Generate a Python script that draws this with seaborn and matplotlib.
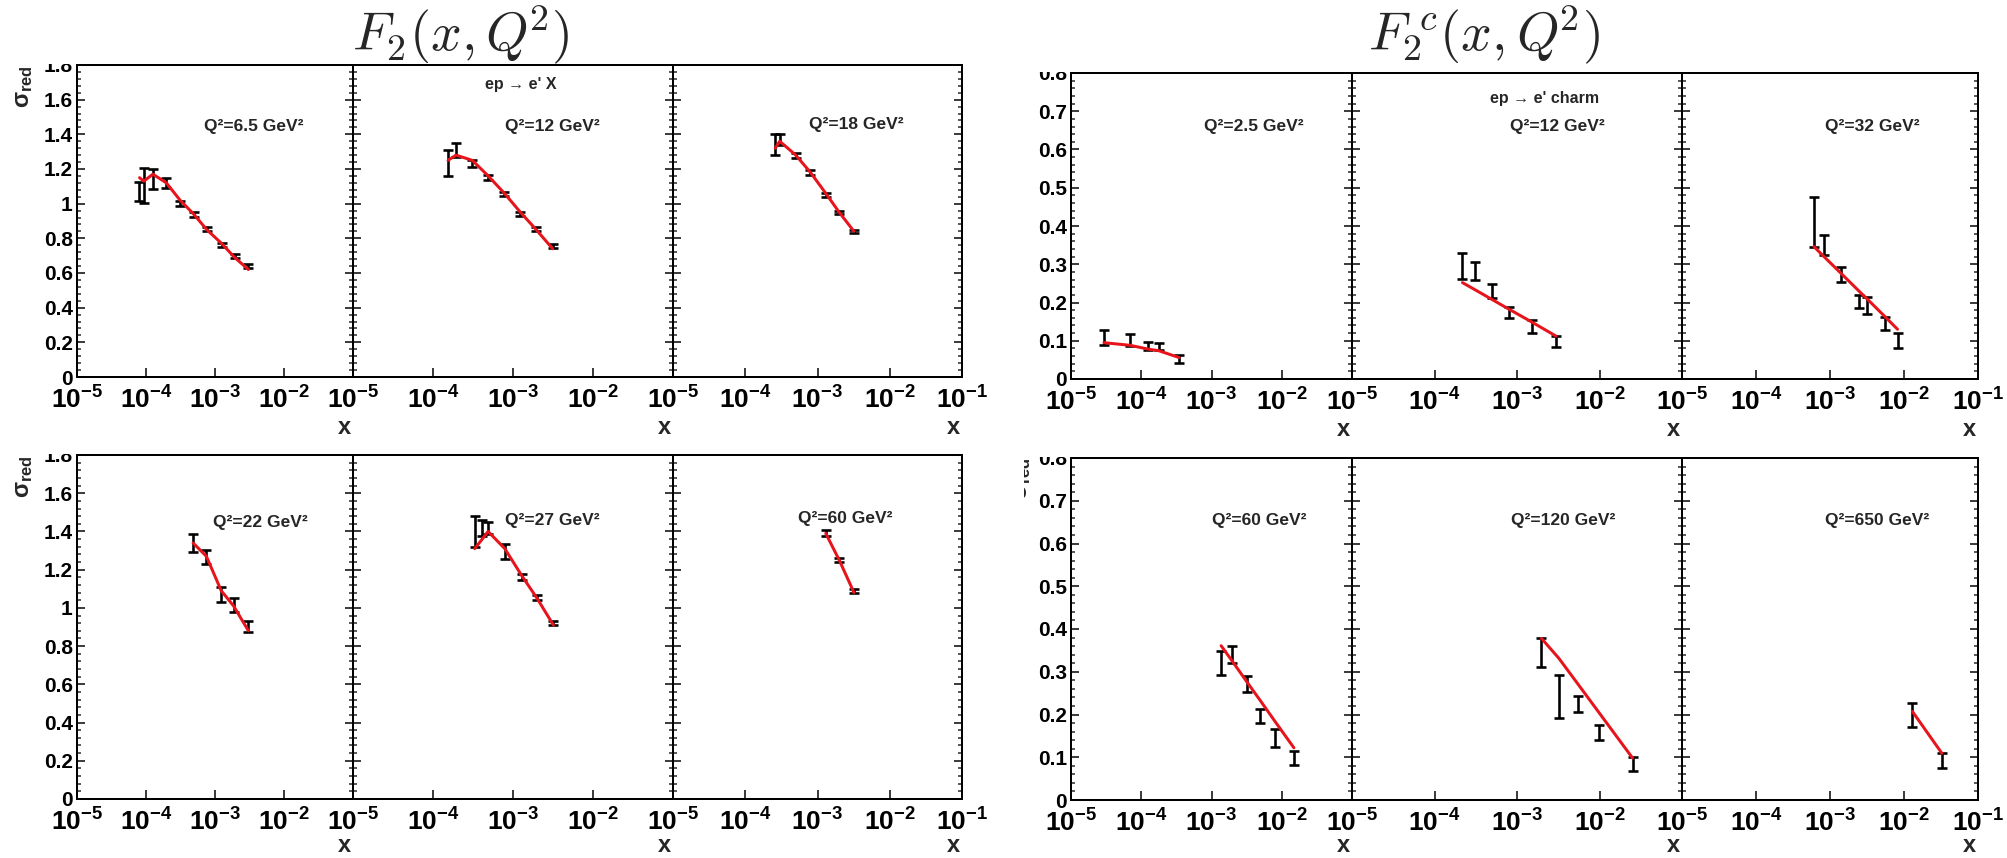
import numpy as np
import pandas as pd
import matplotlib
matplotlib.use("Agg")
import matplotlib.pyplot as plt
import seaborn as sns
from matplotlib import font_manager
from matplotlib.ticker import FixedLocator, LogLocator, NullFormatter, FuncFormatter, MultipleLocator
from matplotlib.patches import Rectangle


def pick_font(cands):
    for c in cands:
        try:
            font_manager.findfont(font_manager.FontProperties(family=c), fallback_to_default=False)
            return c
        except Exception:
            continue
    return "DejaVu Sans"


NARROW = pick_font(["Liberation Sans Narrow", "Liberation Sans", "DejaVu Sans"])
SANS = pick_font(["Liberation Sans", "DejaVu Sans"])

sns.set_theme(style="white")
plt.rcParams["font.family"] = [SANS, "DejaVu Sans"]
plt.rcParams["mathtext.fontset"] = "custom"
for k in ("rm", "bf", "it", "sf"):
    plt.rcParams["mathtext." + k] = NARROW + ":bold"

# ---------------- inclusive reduced cross section, sigma_red ----------------
f2_labels = ["Q²=6.5 GeV²", "Q²=12 GeV²", "Q²=18 GeV²",
             "Q²=22 GeV²", "Q²=27 GeV²", "Q²=60 GeV²"]

f2_x_q6p5 = [8.05e-5, 9.3e-5, 1.26e-4, 1.97e-4, 3.12e-4, 4.9e-4, 7.6e-4, 1.25e-3, 1.92e-3, 3.05e-3]
f2_y_q6p5 = [1.07, 1.105, 1.14, 1.12, 1.00, 0.937, 0.854, 0.763, 0.699, 0.641]
f2_e_q6p5 = [0.055, 0.10, 0.058, 0.027, 0.015, 0.015, 0.012, 0.012, 0.012, 0.010]
f2_t_q6p5 = [1.15, 1.13, 1.17, 1.12, 1.02, 0.94, 0.85, 0.77, 0.69, 0.62]

f2_x_q12 = [1.54e-4, 1.94e-4, 3.1e-4, 4.9e-4, 7.8e-4, 1.24e-3, 1.95e-3, 3.13e-3]
f2_y_q12 = [1.237, 1.31, 1.23, 1.153, 1.056, 0.94, 0.854, 0.757]
f2_e_q12 = [0.075, 0.04, 0.02, 0.015, 0.012, 0.012, 0.012, 0.010]
f2_t_q12 = [1.25, 1.28, 1.25, 1.16, 1.06, 0.95, 0.85, 0.74]

f2_x_q18 = [2.6e-4, 3.0e-4, 5.0e-4, 8.0e-4, 1.3e-3, 2.0e-3, 3.2e-3]
f2_y_q18 = [1.34, 1.37, 1.28, 1.18, 1.05, 0.95, 0.84]
f2_e_q18 = [0.06, 0.03, 0.015, 0.012, 0.012, 0.010, 0.010]
f2_t_q18 = [1.32, 1.36, 1.28, 1.18, 1.06, 0.95, 0.84]

f2_x_q22 = [4.81e-4, 7.5e-4, 1.23e-3, 1.86e-3, 3.05e-3]
f2_y_q22 = [1.34, 1.266, 1.07, 1.016, 0.903]
f2_e_q22 = [0.048, 0.038, 0.04, 0.036, 0.028]
f2_t_q22 = [1.34, 1.27, 1.09, 1.01, 0.88]

f2_x_q27 = [3.32e-4, 4.13e-4, 4.88e-4, 7.9e-4, 1.28e-3, 2.0e-3, 3.2e-3]
f2_y_q27 = [1.40, 1.418, 1.42, 1.295, 1.16, 1.054, 0.919]
f2_e_q27 = [0.083, 0.04, 0.032, 0.037, 0.015, 0.012, 0.010]
f2_t_q27 = [1.31, 1.36, 1.40, 1.31, 1.17, 1.05, 0.91]

f2_x_q60 = [1.3e-3, 2.0e-3, 3.2e-3]
f2_y_q60 = [1.39, 1.25, 1.09]
f2_e_q60 = [0.015, 0.012, 0.010]
f2_t_q60 = [1.39, 1.25, 1.08]

# ---------------- charm reduced cross section ----------------
cc_labels = ["Q²=2.5 GeV²", "Q²=12 GeV²", "Q²=32 GeV²",
             "Q²=60 GeV²", "Q²=120 GeV²", "Q²=650 GeV²"]

cc_x_q2p5 = [2.94e-5, 6.98e-5, 1.26e-4, 1.77e-4, 3.47e-4]
cc_y_q2p5 = [0.109, 0.102, 0.087, 0.085, 0.053]
cc_e_q2p5 = [0.020, 0.016, 0.011, 0.010, 0.010]
cc_t_q2p5 = [0.095, 0.088, 0.078, 0.074, 0.056]

cc_x_q12 = [2.18e-4, 3.12e-4, 4.97e-4, 8.07e-4, 1.51e-3, 2.98e-3]
cc_y_q12 = [0.296, 0.283, 0.230, 0.174, 0.137, 0.098]
cc_e_q12 = [0.034, 0.023, 0.018, 0.015, 0.016, 0.014]
cc_t_q12 = [0.252, 0.233, 0.208, 0.182, 0.149, 0.112]

cc_x_q32 = [6.07e-4, 8.19e-4, 1.43e-3, 2.46e-3, 3.19e-3, 5.6e-3, 8.18e-3]
cc_y_q32 = [0.411, 0.350, 0.274, 0.202, 0.192, 0.146, 0.100]
cc_e_q32 = [0.065, 0.026, 0.020, 0.017, 0.022, 0.017, 0.020]
cc_t_q32 = [0.346, 0.321, 0.275, 0.230, 0.209, 0.162, 0.130]

cc_x_q60 = [1.37e-3, 1.97e-3, 3.2e-3, 4.98e-3, 7.92e-3, 1.49e-2]
cc_y_q60 = [0.321, 0.340, 0.271, 0.196, 0.144, 0.098]
cc_e_q60 = [0.028, 0.020, 0.018, 0.016, 0.021, 0.016]
cc_t_q60 = [0.361, 0.325, 0.276, 0.232, 0.185, 0.122]

cc_x_q120 = [1.98e-3, 3.2e-3, 5.49e-3, 9.9e-3, 2.52e-2]
cc_y_q120 = [0.344, 0.242, 0.225, 0.158, 0.085]
cc_e_q120 = [0.034, 0.050, 0.018, 0.018, 0.016]
cc_t_q120 = [0.378, 0.332, 0.271, 0.204, 0.098]

cc_x_q650 = [1.30e-2, 3.26e-2]
cc_y_q650 = [0.199, 0.092]
cc_e_q650 = [0.029, 0.018]
cc_t_q650 = [0.207, 0.109]

# ---------------- canvas geometry (pixels) ----------------
W, H = 2007, 858
fig = plt.figure(figsize=(W / 100, H / 100), dpi=100)
fig.patch.set_facecolor("white")

left_cols = [(77, 353), (353, 673), (673, 962)]
right_cols = [(1071, 1352), (1352, 1682), (1682, 1978)]
left_rows = [(65, 377), (455, 799)]
right_rows = [(73, 379), (458, 800)]

RED = "#e8141c"
PT = 0.72  # points per pixel at 100 dpi


def px_axes(x0, x1, y0, y1):
    return fig.add_axes([x0 / W, 1 - y1 / H, (x1 - x0) / W, (y1 - y0) / H])


def tick_fmt(last):
    def f(v, pos):
        e = int(round(np.log10(v)))
        if e == -1 and not last:
            return ""
        return r"$\mathbf{10^{%d}}$" % e
    return f


def style(ax, ymax, ymaj, ymin, first, last):
    ax.set_xscale("log")
    ax.set_xlim(1e-5, 1e-1)
    ax.set_ylim(0, ymax)
    ax.set_facecolor("white")
    for s in ax.spines.values():
        s.set_visible(True)
        s.set_color("black")
        s.set_linewidth(2.0 * PT)
    ax.xaxis.set_major_locator(FixedLocator([1e-5, 1e-4, 1e-3, 1e-2, 1e-1]))
    ax.xaxis.set_minor_locator(LogLocator(base=10, subs=np.arange(2, 10)))
    ax.xaxis.set_minor_formatter(NullFormatter())
    ax.xaxis.set_major_formatter(FuncFormatter(tick_fmt(last)))
    ax.yaxis.set_major_locator(MultipleLocator(ymaj))
    ax.yaxis.set_minor_locator(MultipleLocator(ymin))
    ax.yaxis.set_major_formatter(FuncFormatter(lambda v, p: "%g" % round(v, 3)))
    ax.tick_params(axis="x", which="major", direction="in", length=9 * PT, width=1.5 * PT,
                   bottom=True, top=False, labelsize=19, pad=7, colors="black")
    ax.tick_params(axis="x", which="minor", direction="in", length=5 * PT, width=1.5 * PT,
                   bottom=True, top=False)
    ax.tick_params(axis="y", which="major", direction="in", length=8 * PT, width=1.5 * PT,
                   left=True, right=True, labelleft=first, labelsize=15, pad=3, colors="black")
    ax.tick_params(axis="y", which="minor", direction="in", length=4 * PT, width=1.5 * PT,
                   left=True, right=True)
    for lab in ax.get_yticklabels():
        lab.set_fontweight("bold")
        lab.set_family([SANS, "DejaVu Sans"])
    ax.grid(False)


def draw(ax, x, y, e, t):
    ax.errorbar(x, y, yerr=e, fmt="none", ecolor="black", elinewidth=2.6 * PT,
                capsize=3.4, capthick=2.6 * PT, zorder=3)
    df = pd.DataFrame({"x": x, "theory": t})
    sns.lineplot(data=df, x="x", y="theory", ax=ax, color=RED, linewidth=3.0 * PT,
                 sort=False, estimator=None, zorder=4, legend=False)
    ax.set_xlabel("")
    ax.set_ylabel("")


f2_sets = [
    (f2_x_q6p5, f2_y_q6p5, f2_e_q6p5, f2_t_q6p5),
    (f2_x_q12, f2_y_q12, f2_e_q12, f2_t_q12),
    (f2_x_q18, f2_y_q18, f2_e_q18, f2_t_q18),
    (f2_x_q22, f2_y_q22, f2_e_q22, f2_t_q22),
    (f2_x_q27, f2_y_q27, f2_e_q27, f2_t_q27),
    (f2_x_q60, f2_y_q60, f2_e_q60, f2_t_q60),
]
cc_sets = [
    (cc_x_q2p5, cc_y_q2p5, cc_e_q2p5, cc_t_q2p5),
    (cc_x_q12, cc_y_q12, cc_e_q12, cc_t_q12),
    (cc_x_q32, cc_y_q32, cc_e_q32, cc_t_q32),
    (cc_x_q60, cc_y_q60, cc_e_q60, cc_t_q60),
    (cc_x_q120, cc_y_q120, cc_e_q120, cc_t_q120),
    (cc_x_q650, cc_y_q650, cc_e_q650, cc_t_q650),
]

# label anchor points (pixel centres) for the Q^2 captions
f2_lab_pos = [(254, 126), (552, 126), (856, 124), (260, 523), (552, 520), (845, 518)]
cc_lab_pos = [(1254, 126), (1557, 126), (1872, 126), (1259, 520), (1563, 520), (1877, 520)]


def ftext(xp, yp, s, **kw):
    return fig.text(xp / W, 1 - yp / H, s, **kw)


def build(cols, rows, sets, labels, lab_pos, ymax, ymaj, ymin):
    k = 0
    for r, (y0, y1) in enumerate(rows):
        for c, (x0, x1) in enumerate(cols):
            ax = px_axes(x0, x1, y0, y1)
            style(ax, ymax, ymaj, ymin, first=(c == 0), last=(c == 2))
            draw(ax, *sets[k])
            ftext(*lab_pos[k], labels[k], ha="center", va="center",
                  fontsize=12.5, fontweight="bold", family=[NARROW, "DejaVu Sans"])
            # axis title at the right end of each panel
            ftext(x1 - 9, min(y1 + 51, 846), "x", ha="center", va="center", fontsize=17,
                  fontweight="bold", family=[NARROW, "DejaVu Sans"], zorder=8)
            k += 1


build(left_cols, left_rows, f2_sets, f2_labels, f2_lab_pos, 1.8, 0.2, 0.04)
build(right_cols, right_rows, cc_sets, cc_labels, cc_lab_pos, 0.8, 0.1, 0.02)

# process captions
ftext(521, 84, "ep → e' X", ha="center", va="center", fontsize=11.5, fontweight="bold",
      family=[NARROW, "DejaVu Sans"])
ftext(1545, 98, "ep → e' charm", ha="center", va="center", fontsize=11.5, fontweight="bold",
      family=[NARROW, "DejaVu Sans"])

# y axis titles
for yb in (108, 498):
    ftext(24, yb, r"$\sigma_{\mathbf{red}}$", rotation=90, ha="center", va="bottom",
          fontsize=17, zorder=1)
ftext(1022, 500, r"$\sigma_{\mathbf{red}}$", rotation=90, ha="center", va="bottom",
      fontsize=17, zorder=1)


# white bands trimming everything above each row frame
def band(x0, x1, y0, y1):
    fig.patches.append(Rectangle((x0 / W, 1 - y1 / H), (x1 - x0) / W, (y1 - y0) / H,
                                 transform=fig.transFigure, facecolor="white",
                                 edgecolor="none", zorder=5))


band(0, 1000, 30, 63.6)
band(0, 1000, 441, 453.6)
band(1000, 2007, 40, 71.6)
band(1000, 2007, 443, 456.6)
band(1000, 1024, 443, 560)

# panel-group titles
ftext(461, 35, r"$F_2(x,Q^{\!2})$", ha="center", va="center", fontsize=39,
      math_fontfamily="cm", zorder=10)
ftext(1484, 35, r"$F_2\!{}^c(x,Q^{\!2})$", ha="center", va="center", fontsize=39,
      math_fontfamily="cm", zorder=10)

fig.savefig("out.png", dpi=100, facecolor="white")
